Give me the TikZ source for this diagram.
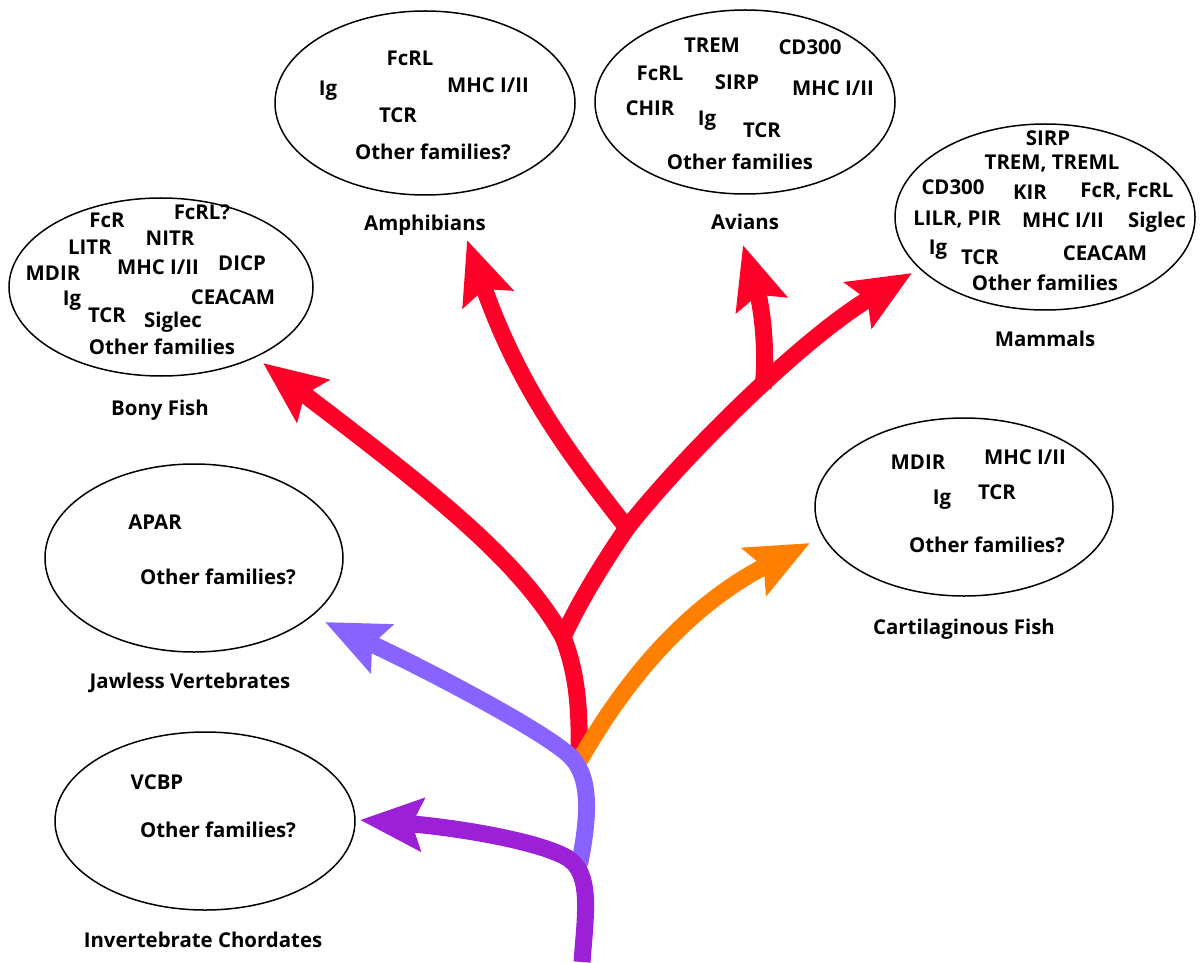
\documentclass[tikz,border=0pt]{standalone}
\usepackage{fontspec}
\setmainfont{Open Sans}
\usetikzlibrary{shapes.geometric,arrows.meta}

\definecolor{branchred}{RGB}{255,0,40}
\definecolor{branchorange}{RGB}{255,128,0}
\definecolor{branchblue}{RGB}{136,99,255}
\definecolor{branchpurple}{RGB}{155,32,214}

\begin{document}
\begin{tikzpicture}[x=0.5pt,y=-0.5pt]
  \tikzset{familyellipse/.style={draw, ellipse, line width=0.75pt, inner sep=0pt},
    genestyle/.style={font=\fontsize{10.2}{11}\selectfont\bfseries, inner sep=0pt, text height=7.3pt, text depth=0pt, anchor=center},
    branchstyle/.style={line width=8.5pt, line cap=round, -{Stealth[length=31pt,width=26pt,inset=5pt]}},
    stemstyle/.style={line width=8.5pt, line cap=round}}
  \useasboundingbox (0,0) rectangle (1202,962);

  % Ellipses with the receptor families
  \node[familyellipse, minimum width=152pt, minimum height=89pt] (bonyell) at (161,287) {};
  \node[familyellipse, minimum width=150pt, minimum height=92pt] (amphell) at (425,103) {};
  \node[familyellipse, minimum width=150pt, minimum height=92pt] (avell) at (745,102) {};
  \node[familyellipse, minimum width=150pt, minimum height=93pt] (mamell) at (1045,217) {};
  \node[familyellipse, minimum width=149pt, minimum height=89pt] (cartell) at (964,507) {};
  \node[familyellipse, minimum width=149pt, minimum height=94pt] (jawell) at (194,558) {};
  \node[familyellipse, minimum width=150pt, minimum height=89pt] (invell) at (205,821) {};

  % Bony fish
  \node[genestyle] (bony-fcr) at (107,220) {FcR};
  \node[genestyle] (bony-fcrl) at (202,212) {FcRL?};
  \node[genestyle] (bony-litr) at (90,247) {LITR};
  \node[genestyle] (bony-nitr) at (170,238) {NITR};
  \node[genestyle] (bony-mdir) at (53,273) {MDIR};
  \node[genestyle] (bony-mhc) at (158,267) {MHC I/II};
  \node[genestyle] (bony-dicp) at (242,263) {DICP};
  \node[genestyle] (bony-ig) at (72,298) {Ig};
  \node[genestyle] (bony-ceacam) at (233,297) {CEACAM};
  \node[genestyle] (bony-tcr) at (107,315) {TCR};
  \node[genestyle] (bony-siglec) at (173,320) {Siglec};
  \node[genestyle] (bony-other) at (162,347) {Other families};

  % Amphibians
  \node[genestyle] (amph-fcrl) at (410,58) {FcRL};
  \node[genestyle] (amph-ig) at (328,88) {Ig};
  \node[genestyle] (amph-mhc) at (488,85) {MHC I/II};
  \node[genestyle] (amph-tcr) at (398,115) {TCR};
  \node[genestyle] (amph-other) at (433,152) {Other families?};

  % Avians
  \node[genestyle] (av-trem) at (712,45) {TREM};
  \node[genestyle] (av-cd300) at (810,47) {CD300};
  \node[genestyle] (av-fcrl) at (660,73) {FcRL};
  \node[genestyle] (av-sirp) at (737,82) {SIRP};
  \node[genestyle] (av-mhc) at (833,88) {MHC I/II};
  \node[genestyle] (av-chir) at (650,108) {CHIR};
  \node[genestyle] (av-ig) at (707,118) {Ig};
  \node[genestyle] (av-tcr) at (762,130) {TCR};
  \node[genestyle] (av-other) at (740,162) {Other families};

  % Mammals
  \node[genestyle] (mam-sirp) at (1048,138) {SIRP};
  \node[genestyle] (mam-trem) at (1052,162) {TREM, TREML};
  \node[genestyle] (mam-cd300) at (953,187) {CD300};
  \node[genestyle] (mam-kir) at (1030,192) {KIR};
  \node[genestyle] (mam-fcr) at (1127,190) {FcR, FcRL};
  \node[genestyle] (mam-lilr) at (957,218) {LILR, PIR};
  \node[genestyle] (mam-mhc) at (1063,220) {MHC I/II};
  \node[genestyle] (mam-siglec) at (1157,220) {Siglec};
  \node[genestyle] (mam-ig) at (938,247) {Ig};
  \node[genestyle] (mam-tcr) at (980,257) {TCR};
  \node[genestyle] (mam-ceacam) at (1105,253) {CEACAM};
  \node[genestyle] (mam-other) at (1045,283) {Other families};

  % Cartilaginous fish
  \node[genestyle] (cart-mdir) at (918,462) {MDIR};
  \node[genestyle] (cart-mhc) at (1025,457) {MHC I/II};
  \node[genestyle] (cart-ig) at (942,497) {Ig};
  \node[genestyle] (cart-tcr) at (997,492) {TCR};
  \node[genestyle] (cart-other) at (987,545) {Other families?};

  % Jawless vertebrates and invertebrate chordates
  \node[genestyle] (jaw-apar) at (155,522) {APAR};
  \node[genestyle] (jaw-other) at (218,577) {Other families?};
  \node[genestyle] (inv-vcbp) at (157,782) {VCBP};
  \node[genestyle] (inv-other) at (218,830) {Other families?};

  % Group names
  \node[genestyle] (bonylabel) at (160,408) {Bony Fish};
  \node[genestyle] (amphlabel) at (425,223) {Amphibians};
  \node[genestyle] (avlabel) at (745,222) {Avians};
  \node[genestyle] (mamlabel) at (1045,339) {Mammals};
  \node[genestyle] (cartlabel) at (964,627) {Cartilaginous Fish};
  \node[genestyle] (jawlabel) at (190,681) {Jawless Vertebrates};
  \node[genestyle] (invlabel) at (203,940) {Invertebrate Chordates};

  % Branch points and arrow ends
  \coordinate (root) at (582,962);
  \coordinate (invbend) at (566,857);
  \coordinate (jawbase) at (580,862);
  \coordinate (jawbend) at (572,758);
  \coordinate (orbase) at (581,758);
  \coordinate (redbase) at (579,750);
  \coordinate (fork1) at (563,637);
  \coordinate (fork2) at (627,528);
  \coordinate (avbase) at (763,388);
  \coordinate (bonytip) at (263,363);
  \coordinate (amphtip) at (467,240);
  \coordinate (avtip) at (743,245);
  \coordinate (mamtip) at (912,273);
  \coordinate (carttip) at (810,543);
  \coordinate (jawtip) at (325,622);
  \coordinate (invtip) at (360,820);

  % Red tree
  \draw[stemstyle, branchred] (redbase) .. controls (580,700) and (575,668) .. (fork1);
  \draw[stemstyle, branchred] (fork1) .. controls (580,600) and (605,560) .. (fork2);
  \draw[branchstyle, branchred] (fork1) .. controls (520,560) and (430,490) .. (bonytip);
  \draw[branchstyle, branchred] (fork2) .. controls (570,455) and (520,390) .. (amphtip);
  \draw[branchstyle, branchred] (fork2) .. controls (680,460) and (800,340) .. (mamtip);
  \draw[branchstyle, branchred, line cap=butt] (avbase) .. controls (768,345) and (760,300) .. (avtip);

  % Orange, blue and purple branches
  \draw[branchstyle, branchorange] (orbase) .. controls (620,690) and (680,610) .. (carttip);
  \draw[stemstyle, branchblue] (jawbase) .. controls (588,820) and (592,780) .. (jawbend);
  \draw[branchstyle, branchblue] (jawbend) .. controls (552,736) and (440,676) .. (jawtip);
  \draw[line width=8.5pt, branchpurple] (root) .. controls (586,910) and (592,872) .. (invbend);
  \draw[branchstyle, branchpurple] (invbend) .. controls (530,838) and (440,826) .. (invtip);
\end{tikzpicture}
\end{document}
